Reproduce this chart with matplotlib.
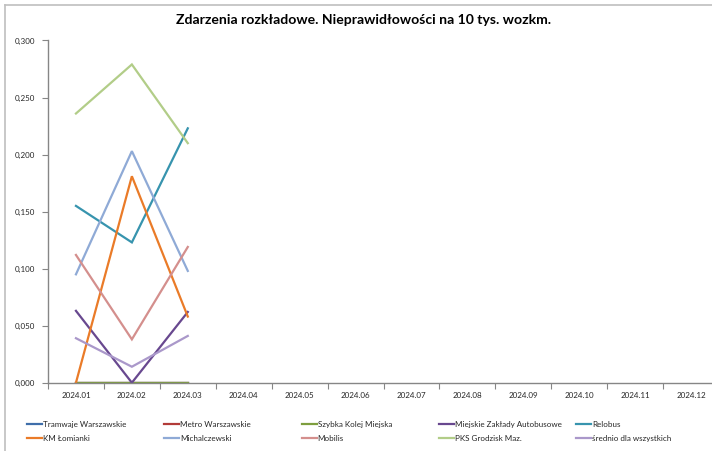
import matplotlib
matplotlib.use("Agg")
import matplotlib.pyplot as plt
from matplotlib.lines import Line2D
from matplotlib.ticker import FuncFormatter, FixedLocator, NullFormatter
import numpy as np

plt.rcParams['font.family'] = ['Lato', 'DejaVu Sans']

months = ["2024.01", "2024.02", "2024.03", "2024.04", "2024.05", "2024.06",
          "2024.07", "2024.08", "2024.09", "2024.10", "2024.11", "2024.12"]

series_names = ["Tramwaje Warszawskie", "Metro Warszawskie", "Szybka Kolej Miejska",
                "Miejskie Zakłady Autobusowe", "Relobus", "KM Łomianki",
                "Michalczewski", "Mobilis", "PKS Grodzisk Maz.", "średnio dla wszystkich"]

tramwaje = [0.0, 0.0, 0.0]
metro = [0.0, 0.0, 0.0]
skm = [0.0, 0.0, 0.0]
mza = [0.063, 0.0, 0.062]
relobus = [0.155, 0.123, 0.223]
km_lomianki = [0.0, 0.181, 0.058]
michalczewski = [0.095, 0.203, 0.098]
mobilis = [0.112, 0.038, 0.119]
pks_grodzisk = [0.236, 0.279, 0.210]
srednio = [0.039, 0.014, 0.041]

values = [tramwaje, metro, skm, mza, relobus, km_lomianki,
          michalczewski, mobilis, pks_grodzisk, srednio]

colors = ["#3F6EAA", "#B23B38", "#7E9E3E", "#68488F", "#3794AE", "#EA7B28",
          "#8FAAD6", "#D48F8D", "#B2CD88", "#AA98CA"]

W, H = 712, 451
fig = plt.figure(figsize=(W / 100, H / 100), dpi=100)

# axes position (pixel-derived)
left, right, top, bottom = 48, 719, 40.5, 382.7
ax = fig.add_axes([left / W, 1 - bottom / H, (right - left) / W, (bottom - top) / H])

x = np.arange(len(months))
for name, vals, c in zip(series_names, values, colors):
    ax.plot(x[:len(vals)], vals, color=c, lw=1.6, label=name, solid_joinstyle='miter')

ax.set_xlim(-0.5, len(months) - 0.5)
ax.set_ylim(0, 0.3)
ax.set_yticks(np.arange(0, 0.301, 0.05))
ax.yaxis.set_major_formatter(FuncFormatter(lambda v, p: f"{v:.3f}".replace(".", ",")))

ax.xaxis.set_major_locator(FixedLocator(np.arange(-0.5, len(months), 1.0)))
ax.xaxis.set_major_formatter(NullFormatter())
ax.xaxis.set_minor_locator(FixedLocator(x))
ax.set_xticklabels(months, minor=True)
ax.tick_params(axis='x', which='minor', length=0, pad=7, labelsize=5.8, colors='#262626')
ax.tick_params(axis='x', which='major', length=4, direction='out', color='#868686')
ax.tick_params(axis='y', length=4, direction='out', color='#868686', labelsize=5.8,
               labelcolor='#262626', pad=5)

for s in ['top', 'right']:
    ax.spines[s].set_visible(False)
for s in ['left', 'bottom']:
    ax.spines[s].set_color('#868686')
    ax.spines[s].set_linewidth(1.0)

fig.text(364 / W, 1 - 20 / H, "Zdarzenia rozkładowe. Nieprawidłowości na 10 tys. wozkm.",
         ha='center', va='center', fontsize=10.1, fontweight='bold', color='#000000')

# outer chart border (top and left visible)
fig.add_artist(Line2D([5 / W, 1.0], [1 - 5 / H, 1 - 5 / H], color='#BFBFBF', lw=1.2))
fig.add_artist(Line2D([5 / W, 5 / W], [1 - 5 / H, 0], color='#BFBFBF', lw=1.2))

# legend (row-major order, two rows of five)
for i, (name, c) in enumerate(zip(series_names, colors)):
    row, col = divmod(i, 5)
    lx = 27 + col * 137.3
    ly = 423.5 + row * 14
    fig.add_artist(Line2D([lx / W, (lx + 15) / W], [1 - ly / H, 1 - ly / H], color=c, lw=1.6))
    fig.text((lx + 16) / W, 1 - (ly + 0.5) / H, name, ha='left', va='center_baseline',
             fontsize=5.8, color='#262626')

fig.savefig("out.png", dpi=100)
